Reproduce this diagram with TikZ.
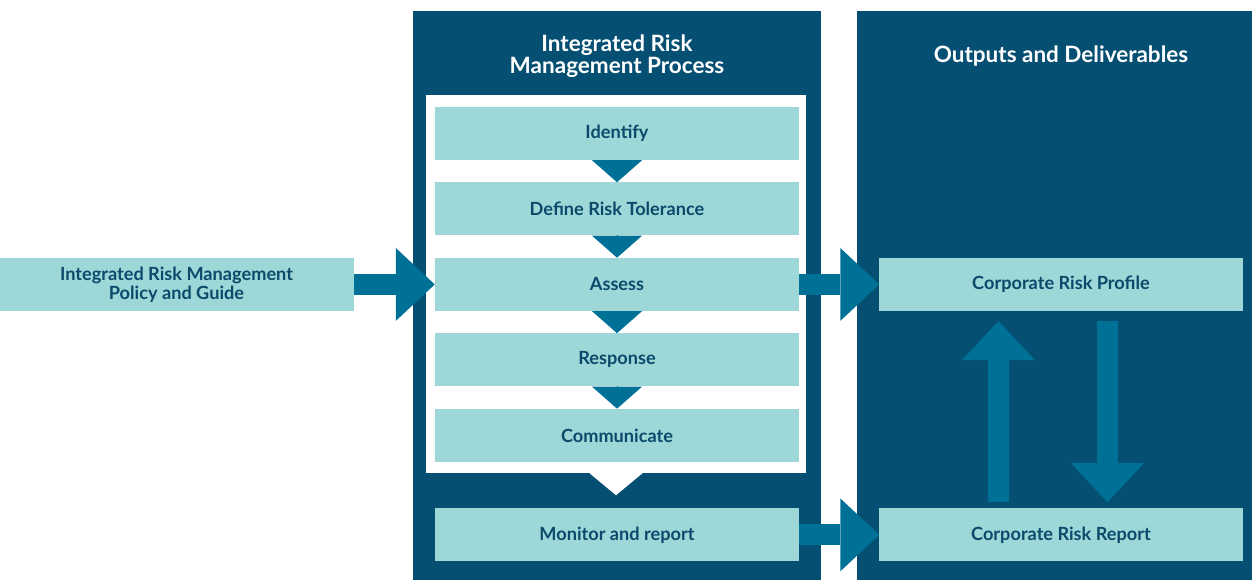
\documentclass[tikz,border=0pt]{standalone}
\usepackage{fontspec}
\setsansfont{Lato}
\usetikzlibrary{arrows.meta, positioning}
\definecolor{irmDark}{HTML}{054F73}
\definecolor{irmLight}{HTML}{9DD7D8}
\definecolor{irmArrow}{HTML}{007196}
\definecolor{irmText}{HTML}{0B4A6B}

\begin{document}
\begin{tikzpicture}[x=0.03cm, y=-0.03cm,
    caja/.style={fill=irmLight, text=irmText, align=center, inner sep=0pt,
                 minimum height=1.59cm, minimum width=10.92cm,
                 font=\sffamily\bfseries\fontsize{15.5}{16.5}\selectfont},
    tit/.style={text=white, align=center,
                font=\sffamily\bfseries\fontsize{19.2}{18.9}\selectfont},
    tri/.style={-{Triangle[length=0.66cm, width=1.5cm]}, line width=0pt, color=irmArrow},
    fl/.style={-{Triangle[length=1.17cm, width=2.19cm, line width=0pt]},
               line width=0.63cm, color=irmArrow}]
  \fill[white] (0,0) rectangle (1252,580);
  \useasboundingbox (0,0) rectangle (1252,580);
  % fondos
  \fill[irmDark] (413,11) rectangle (821,580);
  \fill[irmDark] (857,11) rectangle (1252,580);
  \node[fill=white, inner sep=0pt, minimum width=11.4cm, minimum height=11.34cm] (blanco) at (616,284) {};
  \node[tit] (tproc) at (617,56) {Integrated Risk\\Management Process};
  \node[tit] (tout) at (1061,56) {Outputs and Deliverables};
  % pasos
  \node[caja] (ident) at (617,133.5) {Identify};
  \node[caja, below=0.66cm of ident] (toler) {Define Risk Tolerance};
  \node[caja, below=0.66cm of toler] (assess) {Assess};
  \node[caja, below=0.66cm of assess] (resp) {Response};
  \node[caja, below=0.66cm of resp] (comm) {Communicate};
  \node[caja, below=1.38cm of comm] (monit) {Monitor and report};
  \draw[tri] (ident) -- (toler); \draw[tri] (toler) -- (assess);
  \draw[tri] (assess) -- (resp); \draw[tri] (resp) -- (comm);
  \draw[tri, color=white, -{Triangle[length=0.66cm, width=1.59cm]}] (blanco.south) -- ++(0,22);
  % entrada y salidas
  \node[caja, minimum width=10.62cm, left=2.43cm of assess] (guia) {Integrated Risk Management\\Policy and Guide};
  \node[caja, minimum width=10.89cm, right=2.4cm of assess] (perfil) {Corporate Risk Profile};
  \node[caja, minimum width=10.89cm, right=2.4cm of monit] (reporte) {Corporate Risk Report};
  \draw[fl] (guia) -- (assess);
  \draw[fl] (assess) -- (perfil);
  \draw[fl] (monit) -- (reporte);
  \draw[fl, shorten <=0.18cm, shorten >=0.3cm] ([xshift=-1.875cm]reporte.north) -- ([xshift=-1.875cm]perfil.south);
  \draw[fl, shorten <=0.3cm, shorten >=0.18cm] ([xshift=1.395cm]perfil.south) -- ([xshift=1.395cm]reporte.north);
\end{tikzpicture}
\end{document}
